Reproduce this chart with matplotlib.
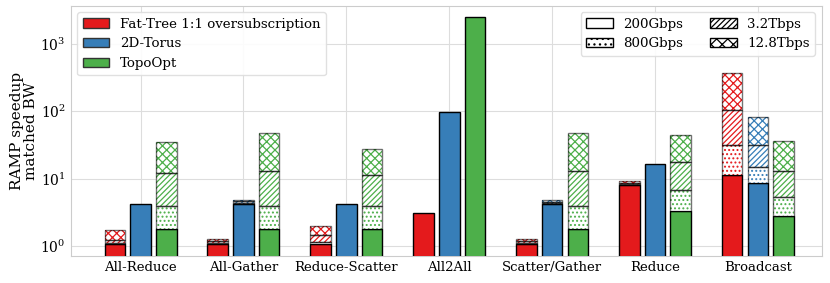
import numpy as np
import matplotlib
matplotlib.use("Agg")
import matplotlib.pyplot as plt
from matplotlib.patches import Patch

# ------------------------------------------
# Data (cumulative speedup at each bandwidth)
# ------------------------------------------

collectives = ["All-Reduce", "All-Gather", "Reduce-Scatter", "All2All",
               "Scatter/Gather", "Reduce", "Broadcast"]

bandwidths = ["200Gbps", "800Gbps", "3.2Tbps", "12.8Tbps"]

# rows = collectives, cols = bandwidths (NaN -> no segment)
fat_tree = [
    [1.06, 1.12, 1.25, 1.75],
    [1.06, 1.12, 1.20, 1.29],
    [1.06, 1.15, 1.44, 1.98],
    [3.13, np.nan, np.nan, np.nan],
    [1.06, 1.12, 1.20, 1.29],
    [7.95, 8.30, 8.70, 9.20],
    [11.2, 31.9, 105.6, 365.0],
]

torus = [
    [4.26, np.nan, np.nan, np.nan],
    [4.26, 4.40, 4.60, 4.80],
    [4.16, np.nan, np.nan, np.nan],
    [98.6, np.nan, np.nan, np.nan],
    [4.16, 4.35, 4.55, 4.77],
    [16.7, np.nan, np.nan, np.nan],
    [8.7, 14.9, 31.9, 83.0],
]

topoopt = [
    [1.81, 3.92, 12.0, 34.9],
    [1.81, 3.92, 12.8, 48.0],
    [1.81, 3.92, 11.2, 27.9],
    [2500.0, np.nan, np.nan, np.nan],
    [1.81, 3.92, 12.8, 48.0],
    [3.27, 6.7, 17.9, 44.4],
    [2.79, 5.4, 12.8, 36.6],
]

series_names = ["Fat-Tree 1:1 oversubscription", "2D-Torus", "TopoOpt"]
series_colors = ["#e41a1c", "#377eb8", "#4daf4a"]
hatches = ["", "....", "//////", "xxxx"]
legend_hatches = ["", "...", "//////", "xxx"]

# ------------------------------------------
# Plot
# ------------------------------------------

plt.rcParams["font.family"] = "DejaVu Serif"
plt.rcParams["hatch.linewidth"] = 0.9

fig, ax = plt.subplots(figsize=(8.3, 2.83), dpi=100)
fig.subplots_adjust(left=0.085, right=0.99, top=0.98, bottom=0.095)

x = np.arange(len(collectives))
width = 0.2
offsets = [-0.25, 0.0, 0.25]

for data, color, off in zip([fat_tree, torus, topoopt], series_colors, offsets):
    data = np.array(data)
    for i in range(len(collectives)):
        prev = 0.0
        for j in range(len(bandwidths)):
            top = data[i, j]
            if np.isnan(top):
                continue
            if j == 0:
                ax.bar(x[i] + off, top - prev, width, bottom=prev,
                       color=color, edgecolor="black", linewidth=1, zorder=3)
            else:
                # hatch in series colour, outline drawn separately
                ax.bar(x[i] + off, top - prev, width, bottom=prev,
                       facecolor="white", edgecolor=color, hatch=hatches[j],
                       linewidth=0, zorder=3)
                ax.bar(x[i] + off, top - prev, width, bottom=prev,
                       facecolor="none", edgecolor=(0, 0, 0, 0.55),
                       linewidth=1, zorder=4)
            prev = top

ax.set_yscale("log")
ax.set_ylim(0.71, 3700)
ax.set_xlim(-0.68, 6.62)
ax.set_xticks(x)
ax.set_xticklabels(collectives, fontsize=9.5)
ax.tick_params(axis="y", labelsize=10)
ax.tick_params(length=0)
ax.set_ylabel("RAMP speedup\nmatched BW", fontsize=11, labelpad=2,
              linespacing=1.0)

ax.grid(True, which="major", color="#dddddd", linewidth=0.8, zorder=0)
ax.minorticks_off()
for sp in ax.spines.values():
    sp.set_color("#cccccc")

# ------------------------------------------
# Legends
# ------------------------------------------

series_handles = [Patch(facecolor=c, edgecolor="#333333", label=n)
                  for c, n in zip(series_colors, series_names)]
leg1 = ax.legend(handles=series_handles, loc="upper left", fontsize=9.6,
                 framealpha=0.9, edgecolor="#dddddd")
ax.add_artist(leg1)

bw_handles = [Patch(facecolor="white", edgecolor="black", hatch=h, label=b)
              for h, b in zip(legend_hatches, bandwidths)]
ax.legend(handles=bw_handles, loc="upper right", ncol=2, fontsize=9.6,
          framealpha=0.9, edgecolor="#dddddd")

plt.savefig("out.png", dpi=100)
